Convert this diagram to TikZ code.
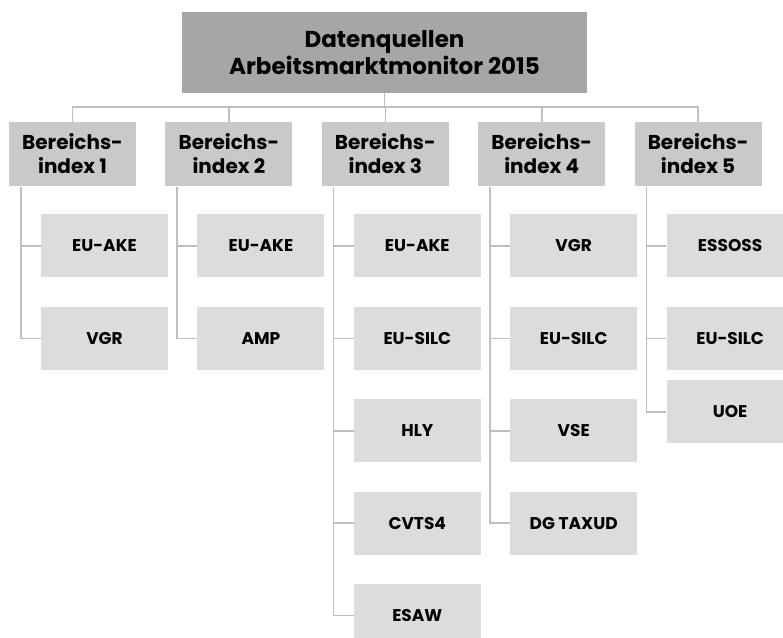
\documentclass[tikz,border=0pt]{standalone}
\usepackage{fontspec}
\setmainfont{Poppins}
\usepackage{tikz}
\usetikzlibrary{positioning, calc}

\definecolor{topgray}{HTML}{A6A6A6}
\definecolor{midgray}{HTML}{C9C9C9}
\definecolor{lowgray}{HTML}{DCDCDC}
\definecolor{linegray}{HTML}{BFBFBF}

\begin{document}
\begin{tikzpicture}[
  x=1pt, y=1pt,
  topbox/.style={fill=topgray, minimum width=405pt, minimum height=81pt, align=center, font=\fontsize{23}{27}\selectfont\bfseries},
  areabox/.style={fill=midgray, minimum width=127pt, minimum height=64pt, align=center, font=\fontsize{20}{24}\selectfont\bfseries},
  srcbox/.style={fill=lowgray, minimum width=127pt, minimum height=63pt, align=center, font=\fontsize{17}{20}\selectfont\bfseries},
  link/.style={draw=linegray, line width=1.6pt}
]
  \useasboundingbox (0,0) rectangle (783,-637);

  % Wurzel und Bereichsindizes
  \node[topbox] (root) at (384.5,-52.5) {Datenquellen\\Arbeitsmarktmonitor 2015};
  \node[areabox] (b1) at (72.5,-154) {Bereichs-\\index 1};
  \node[areabox, right=29pt of b1] (b2) {Bereichs-\\index 2};
  \node[areabox, right=29pt of b2] (b3) {Bereichs-\\index 3};
  \node[areabox, right=29pt of b3] (b4) {Bereichs-\\index 4};
  \node[areabox, right=29pt of b4] (b5) {Bereichs-\\index 5};

  % Datenquellen je Bereich
  \node[srcbox, below right=28pt and 32pt of b1.south west] (s11) {EU-AKE};
  \node[srcbox, below=29pt of s11] (s12) {VGR};

  \node[srcbox, below right=28pt and 32pt of b2.south west] (s21) {EU-AKE};
  \node[srcbox, below=29pt of s21] (s22) {AMP};

  \node[srcbox, below right=28pt and 32pt of b3.south west] (s31) {EU-AKE};
  \node[srcbox, below=29pt of s31] (s32) {EU-SILC};
  \node[srcbox, below=29pt of s32] (s33) {HLY};
  \node[srcbox, below=29pt of s33] (s34) {CVTS4};
  \node[srcbox, below=29pt of s34] (s35) {ESAW};

  \node[srcbox, below right=28pt and 32pt of b4.south west] (s41) {VGR};
  \node[srcbox, below=29pt of s41] (s42) {EU-SILC};
  \node[srcbox, below=29pt of s42] (s43) {VSE};
  \node[srcbox, below=29pt of s43] (s44) {DG TAXUD};

  \node[srcbox, below right=28pt and 32pt of b5.south west] (s51) {ESSOSS};
  \node[srcbox, below=29pt of s51] (s52) {EU-SILC};
  \node[srcbox, below=10pt of s52] (s53) {UOE};

  % Verbindungen
  \coordinate (bus) at ($(root.south)+(0,-14pt)$);
  \draw[link] (root.south) -- (bus);
  \draw[link] (b1.north) |- (bus);
  \draw[link] (b2.north) |- (bus);
  \draw[link] (b3.north) |- (bus);
  \draw[link] (b4.north) |- (bus);
  \draw[link] (b5.north) |- (bus);

  \draw[link] ([xshift=12pt,yshift=-1pt]b1.south west) |- (s12.west);
  \draw[link] (s11.west) -- ++(-20pt,0);
  \draw[link] ([xshift=12pt,yshift=-1pt]b2.south west) |- (s22.west);
  \draw[link] (s21.west) -- ++(-20pt,0);
  \draw[link] ([xshift=12pt,yshift=-1pt]b3.south west) |- (s35.west);
  \draw[link] (s31.west) -- ++(-20pt,0);
  \draw[link] (s32.west) -- ++(-20pt,0);
  \draw[link] (s33.west) -- ++(-20pt,0);
  \draw[link] (s34.west) -- ++(-20pt,0);
  \draw[link] ([xshift=12pt,yshift=-1pt]b4.south west) |- (s44.west);
  \draw[link] (s41.west) -- ++(-20pt,0);
  \draw[link] (s42.west) -- ++(-20pt,0);
  \draw[link] (s43.west) -- ++(-20pt,0);
  \draw[link] ([xshift=12pt,yshift=-1pt]b5.south west) |- (s53.west);
  \draw[link] (s51.west) -- ++(-20pt,0);
  \draw[link] (s52.west) -- ++(-20pt,0);
\end{tikzpicture}
\end{document}
